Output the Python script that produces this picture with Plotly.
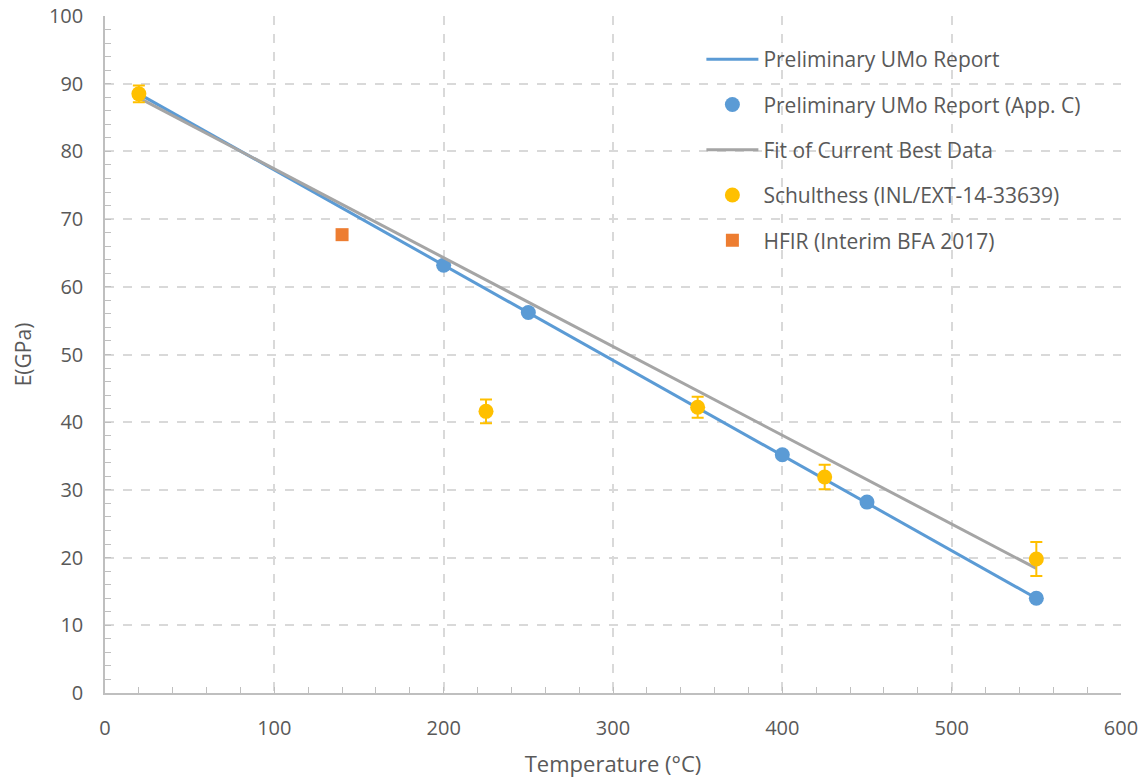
import plotly.graph_objects as go

# Preliminary UMo report: linear relation and Appendix C points
report_line_t = [20, 550]
report_line_e = [88.5, 14.0]
appc_t = [200, 250, 400, 450, 550]
appc_e = [63.2, 56.2, 35.2, 28.2, 14.0]

# Fit of current best data
fit_t = [20, 550]
fit_e = [87.9, 18.4]

# Schulthess (INL/EXT-14-33639) measurements with uncertainty
schul_t = [20, 225, 350, 425, 550]
schul_e = [88.5, 41.6, 42.2, 31.9, 19.8]
schul_err = [1.25, 1.75, 1.55, 1.8, 2.5]

# HFIR (Interim BFA 2017)
hfir_t = [140]
hfir_e = [67.7]

BLUE = "#5B9BD5"
GRAY = "#A5A5A5"
YELLOW = "#FFC000"
ORANGE = "#ED7D31"
TEXT = "#595959"
FONT = "Open Sans, Noto Sans, sans-serif"

fig = go.Figure()
fig.add_trace(go.Scatter(x=report_line_t, y=report_line_e, mode="lines",
                         line=dict(color=BLUE, width=3),
                         name="Preliminary UMo Report", legendgroup="a"))
fig.add_trace(go.Scatter(x=appc_t, y=appc_e, mode="markers",
                         marker=dict(color=BLUE, size=15, symbol="circle"),
                         name="Preliminary UMo Report (App. C)", legendgroup="b"))
fig.add_trace(go.Scatter(x=fit_t, y=fit_e, mode="lines",
                         line=dict(color=GRAY, width=3),
                         name="Fit of Current Best Data", legendgroup="c"))
fig.add_trace(go.Scatter(x=schul_t, y=schul_e, mode="markers",
                         marker=dict(color=YELLOW, size=15, symbol="circle"),
                         error_y=dict(type="data", array=schul_err, visible=True,
                                      color=YELLOW, thickness=2, width=6),
                         name="Schulthess (INL/EXT-14-33639)", legendgroup="d"))
fig.add_trace(go.Scatter(x=hfir_t, y=hfir_e, mode="markers",
                         marker=dict(color=ORANGE, size=13, symbol="square"),
                         name="HFIR (Interim BFA 2017)", legendgroup="e"))

axis_common = dict(
    showgrid=True, gridcolor="#D9D9D9", gridwidth=1.5, griddash="dash",
    showline=True, linecolor="#BFBFBF", linewidth=1.5,
    ticks="inside", ticklen=6, tickcolor="#BFBFBF", tickwidth=1,
    zeroline=False, automargin=False,
    tickfont=dict(family=FONT, size=20, color=TEXT),
)

fig.update_xaxes(range=[0, 600], dtick=100, tick0=0,
                 minor=dict(dtick=20, ticks="inside", ticklen=6, tickcolor="#BFBFBF", showgrid=False),
                 ticklabelstandoff=16,
                 title=dict(text="Temperature (°C)", font=dict(family=FONT, size=22, color=TEXT), standoff=17),
                 **axis_common)
fig.update_yaxes(range=[0, 100], dtick=10, tick0=0,
                 minor=dict(dtick=2, ticks="inside", ticklen=6, tickcolor="#BFBFBF", showgrid=False),
                 ticklabelstandoff=16,
                 title=dict(text="E(GPa)", font=dict(family=FONT, size=21, color=TEXT), standoff=12),
                 **axis_common)

fig.update_layout(
    width=1146, height=779,
    margin=dict(l=105, r=25, t=16, b=86),
    paper_bgcolor="white", plot_bgcolor="white",
    legend=dict(x=0.587, y=0.966, xanchor="left", yanchor="top",
                traceorder="grouped", tracegroupgap=15,
                font=dict(family=FONT, size=21, color=TEXT),
                bgcolor="rgba(255,255,255,0)", itemwidth=52),
    showlegend=True,
)

fig.write_html("out.html")
